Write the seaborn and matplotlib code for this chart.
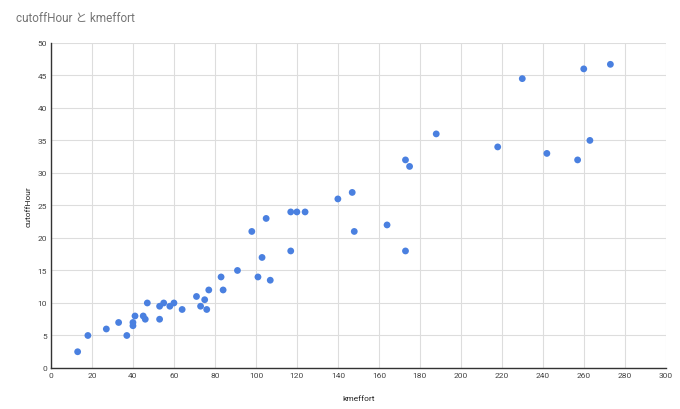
import numpy as np
import pandas as pd
import seaborn as sns
import matplotlib.pyplot as plt

# data
kmeffort = [13, 18, 27, 33, 37, 40, 40, 41, 45, 46, 47, 53, 53, 55, 58, 60, 64,
            71, 73, 75, 76, 77, 83, 84, 91, 98, 101, 103, 105, 107, 117, 117,
            120, 124, 140, 147, 148, 164, 173, 173, 175, 188, 218, 230, 242,
            257, 260, 263, 273]
cutoff_hour = [2.5, 5, 6, 7, 5, 7, 6.5, 8, 8, 7.5, 10, 9.5, 7.5, 10, 9.5, 10, 9,
               11, 9.5, 10.5, 9, 12, 14, 12, 15, 21, 14, 17, 23, 13.5, 24, 18,
               24, 24, 26, 27, 21, 22, 32, 18, 31, 36, 34, 44.5, 33,
               32, 46, 35, 46.7]
x_ticks = list(range(0, 301, 20))
y_ticks = list(range(0, 51, 5))

df = pd.DataFrame({"kmeffort": kmeffort, "cutoffHour": cutoff_hour})

sns.set_theme(style="whitegrid")
plt.rcParams["font.family"] = ["Roboto", "Noto Sans CJK JP", "DejaVu Sans"]

fig = plt.figure(figsize=(6.8, 4.1), dpi=100)
ax = fig.add_axes([0.075, 0.10, 0.904, 0.793])

sns.scatterplot(data=df, x="kmeffort", y="cutoffHour", ax=ax,
                color="#4a80e0", s=24, edgecolor="none", zorder=3)

ax.set_xlim(0, 300)
ax.set_ylim(0, 50)
ax.set_xticks(x_ticks)
ax.set_yticks(y_ticks)
ax.tick_params(axis="both", labelsize=6, colors="#444444", length=0, pad=3)
ax.grid(True, color="#dddddd", linewidth=0.8)
for side in ["top", "right"]:
    ax.spines[side].set_visible(False)
for side in ["left", "bottom"]:
    ax.spines[side].set_color("#333333")
    ax.spines[side].set_linewidth(1)

ax.set_xlabel("kmeffort", fontsize=6, color="#222222", labelpad=12)
ax.set_ylabel("cutoffHour", fontsize=6, color="#222222", labelpad=4)

fig.text(0.024, 0.955, "cutoffHour と kmeffort", fontsize=8.5,
         color="#757575", ha="left", va="center")

fig.savefig("out.png", dpi=100)
